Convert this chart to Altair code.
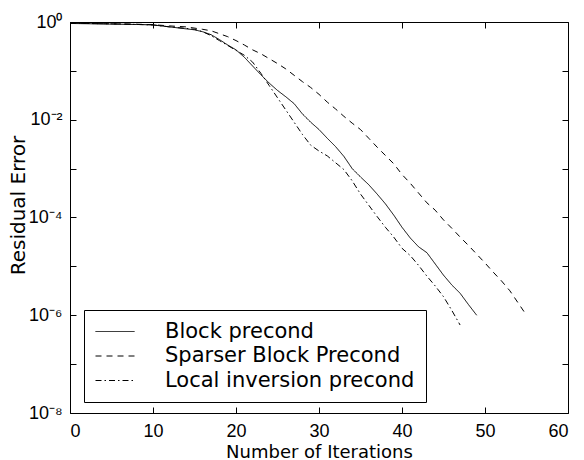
import json
import altair as alt
import pandas as pd

# ---- data (exponent of the residual error, base 10) ----
series_names = ["Block precond", "Sparser Block Precond", "Local inversion precond"]

block_iter = [0, 2, 4, 6, 8, 10, 12, 14, 15, 16, 17, 18, 19, 20, 21, 22, 23, 24, 25, 26, 27, 28,
              29, 30, 31, 32, 33, 34, 35, 36, 37, 38, 39, 40, 41, 42, 43, 44, 45, 46, 47, 48, 49]
block_exp = [-0.03, -0.035, -0.04, -0.045, -0.05, -0.06, -0.1, -0.14, -0.16, -0.2, -0.26, -0.36,
             -0.47, -0.57, -0.72, -0.9, -1.08, -1.25, -1.4, -1.53, -1.67, -1.88, -2.05, -2.2,
             -2.38, -2.55, -2.75, -3.0, -3.17, -3.33, -3.52, -3.72, -3.95, -4.2, -4.42, -4.6,
             -4.72, -4.95, -5.18, -5.38, -5.55, -5.78, -6.0]

sparse_iter = [0, 2, 4, 6, 8, 10, 12, 14, 16, 17, 18, 19, 20, 21, 22, 23, 24, 25, 26, 27, 28, 29,
               30, 31, 32, 33, 34, 35, 36, 37, 38, 39, 40, 41, 42, 43, 44, 45, 46, 47, 48, 49,
               50, 51, 52, 53, 54, 55]
sparse_exp = [-0.02, -0.03, -0.035, -0.04, -0.045, -0.055, -0.08, -0.1, -0.15, -0.18, -0.24, -0.3,
              -0.38, -0.47, -0.57, -0.65, -0.75, -0.85, -0.96, -1.09, -1.22, -1.34, -1.48, -1.64,
              -1.78, -1.93, -2.07, -2.2, -2.38, -2.56, -2.73, -2.9, -3.12, -3.3, -3.5, -3.7,
              -3.85, -4.05, -4.22, -4.4, -4.57, -4.75, -4.93, -5.12, -5.3, -5.5, -5.75, -6.0]

local_iter = [0, 2, 4, 6, 8, 10, 12, 14, 15, 16, 17, 18, 19, 20, 21, 22, 23, 24, 25, 26, 27, 28,
              29, 30, 31, 32, 33, 34, 35, 36, 37, 38, 39, 40, 41, 42, 43, 44, 45, 46, 47]
local_exp = [-0.025, -0.03, -0.035, -0.04, -0.05, -0.06, -0.1, -0.13, -0.15, -0.2, -0.28, -0.38,
             -0.48, -0.58, -0.68, -0.82, -1.05, -1.3, -1.55, -1.8, -2.05, -2.3, -2.52, -2.64,
             -2.74, -2.88, -3.02, -3.25, -3.52, -3.75, -3.98, -4.2, -4.4, -4.63, -4.78, -4.98,
             -5.2, -5.4, -5.62, -5.9, -6.2]

x_ticks = [0, 10, 20, 30, 40, 50, 60]
y_ticks = [1e0, 1e-1, 1e-2, 1e-3, 1e-4, 1e-5, 1e-6, 1e-7, 1e-8]
y_label_ticks = [1e0, 1e-2, 1e-4, 1e-6, 1e-8]
y_tick_labels = ["10\u2070", "", "10\u207b\u00b2", "", "10\u207b\u2074", "",
                 "10\u207b\u2076", "", "10\u207b\u2078"]

# ---- table ----
frames = []
for name, its, exps in zip(series_names,
                           [block_iter, sparse_iter, local_iter],
                           [block_exp, sparse_exp, local_exp]):
    frames.append(pd.DataFrame({"iter": its,
                                "err": [10.0 ** e for e in exps],
                                "series": name}))
df = pd.concat(frames, ignore_index=True)

W, H = 498, 391
label_expr = json.dumps(y_tick_labels) + "[round(-log(datum.value)/LN10)]"

x_scale = alt.Scale(domain=[0, 60], nice=False, zero=False)
y_scale = alt.Scale(type="log", domain=[1e-8, 1], nice=False)

lines = alt.Chart(df).mark_line(strokeWidth=1, color="black").encode(
    x=alt.X("iter:Q", scale=x_scale,
            axis=alt.Axis(values=x_ticks, ticks=False, domain=False, grid=False,
                          labelPadding=9, labelFont="Liberation Sans", labelFontSize=18,
                          labelColor="black", title="Number of Iterations",
                          titleFont="DejaVu Sans", titleFontSize=18, titleFontWeight="normal",
                          titleColor="black", titleX=W / 2, titleY=44,
                          titleBaseline="alphabetic")),
    y=alt.Y("err:Q", scale=y_scale,
            axis=alt.Axis(values=y_label_ticks, labelExpr=label_expr, ticks=False,
                          domain=False, grid=False, labelPadding=8,
                          labelFont="Liberation Sans", labelFontSize=18, labelColor="black",
                          title="Residual Error", titleFont="DejaVu Sans", titleFontSize=20,
                          titleFontWeight="normal", titleColor="black", titleX=-46,
                          titleY=183, titleBaseline="alphabetic", titleAngle=270)),
    strokeDash=alt.StrokeDash(
        "series:N",
        scale=alt.Scale(domain=series_names, range=[[1, 0], [6, 5], [6, 3, 1.5, 3]]),
        legend=alt.Legend(title=None, orient="none", legendX=14, legendY=288,
                          symbolType="stroke", symbolSize=1521, symbolStrokeWidth=1,
                          symbolStrokeColor="black", labelFont="DejaVu Sans",
                          labelFontSize=21, labelColor="black", labelOffset=30,
                          labelLimit=500, padding=11, clipHeight=21, rowPadding=2.5,
                          strokeColor="black", fillColor="white")),
    order=alt.Order("iter:Q"),
)

tick_axis = dict(labels=False, domain=False, grid=False, title=None, ticks=True,
                 tickSize=6, offset=-6, tickColor="black", tickWidth=1)

ticks_bl = alt.Chart(df).mark_line(opacity=0).encode(
    x=alt.X("iter:Q", scale=x_scale, axis=alt.Axis(orient="bottom", values=x_ticks, **tick_axis)),
    y=alt.Y("err:Q", scale=y_scale, axis=alt.Axis(orient="left", values=y_ticks, **tick_axis)),
    detail="series:N",
)
ticks_tr = alt.Chart(df).mark_line(opacity=0).encode(
    x=alt.X("iter:Q", scale=x_scale, axis=alt.Axis(orient="top", values=x_ticks, **tick_axis)),
    y=alt.Y("err:Q", scale=y_scale, axis=alt.Axis(orient="right", values=y_ticks, **tick_axis)),
    detail="series:N",
)

chart = alt.layer(lines, ticks_bl, ticks_tr).resolve_axis(
    x="independent", y="independent"
).properties(
    width=W, height=H,
    autosize=alt.AutoSizeParams(type="none"),
    padding={"left": 70, "top": 22, "right": 16, "bottom": 47},
    background="white",
).configure_view(stroke="black", strokeWidth=1)

chart.save("out.html", embed_options={"renderer": "svg", "actions": False})
